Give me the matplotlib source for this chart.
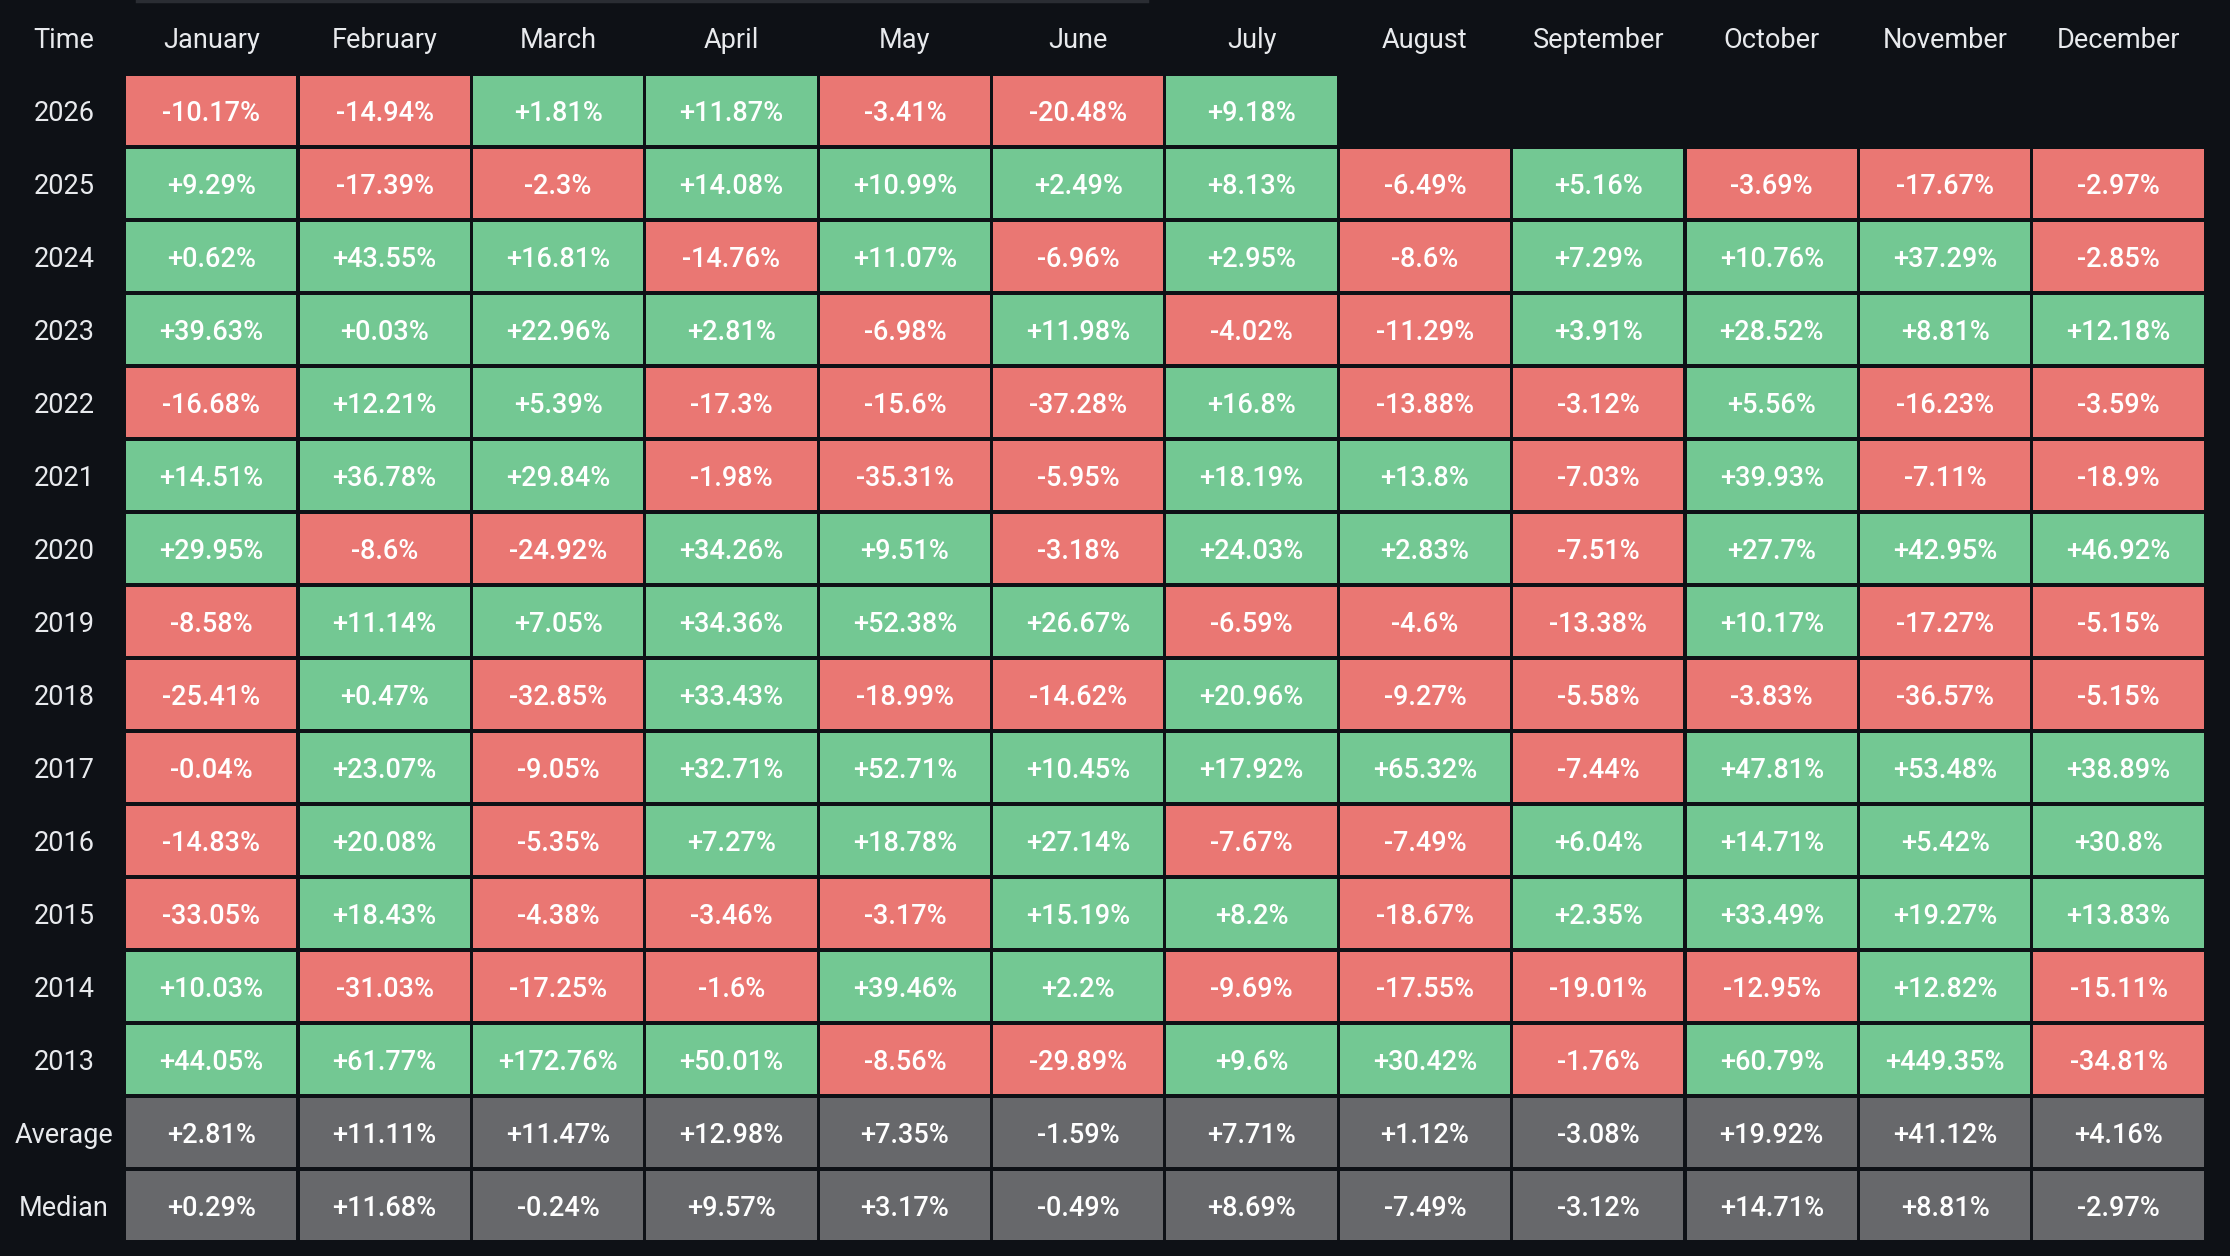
"""Monthly returns heatmap table (dark theme)."""

import matplotlib
matplotlib.use("Agg")
import matplotlib.pyplot as plt
from matplotlib.patches import Rectangle
from matplotlib.lines import Line2D

plt.rcParams["font.family"] = ["Roboto", "DejaVu Sans"]

months = ["January", "February", "March", "April", "May", "June", "July",
          "August", "September", "October", "November", "December"]
row_labels = ["2026", "2025", "2024", "2023", "2022", "2021", "2020", "2019",
              "2018", "2017", "2016", "2015", "2014", "2013", "Average", "Median"]

r2026 = [-10.17, -14.94, 1.81, 11.87, -3.41, -20.48, 9.18, None, None, None, None, None]
r2025 = [9.29, -17.39, -2.3, 14.08, 10.99, 2.49, 8.13, -6.49, 5.16, -3.69, -17.67, -2.97]
r2024 = [0.62, 43.55, 16.81, -14.76, 11.07, -6.96, 2.95, -8.6, 7.29, 10.76, 37.29, -2.85]
r2023 = [39.63, 0.03, 22.96, 2.81, -6.98, 11.98, -4.02, -11.29, 3.91, 28.52, 8.81, 12.18]
r2022 = [-16.68, 12.21, 5.39, -17.3, -15.6, -37.28, 16.8, -13.88, -3.12, 5.56, -16.23, -3.59]
r2021 = [14.51, 36.78, 29.84, -1.98, -35.31, -5.95, 18.19, 13.8, -7.03, 39.93, -7.11, -18.9]
r2020 = [29.95, -8.6, -24.92, 34.26, 9.51, -3.18, 24.03, 2.83, -7.51, 27.7, 42.95, 46.92]
r2019 = [-8.58, 11.14, 7.05, 34.36, 52.38, 26.67, -6.59, -4.6, -13.38, 10.17, -17.27, -5.15]
r2018 = [-25.41, 0.47, -32.85, 33.43, -18.99, -14.62, 20.96, -9.27, -5.58, -3.83, -36.57, -5.15]
r2017 = [-0.04, 23.07, -9.05, 32.71, 52.71, 10.45, 17.92, 65.32, -7.44, 47.81, 53.48, 38.89]
r2016 = [-14.83, 20.08, -5.35, 7.27, 18.78, 27.14, -7.67, -7.49, 6.04, 14.71, 5.42, 30.8]
r2015 = [-33.05, 18.43, -4.38, -3.46, -3.17, 15.19, 8.2, -18.67, 2.35, 33.49, 19.27, 13.83]
r2014 = [10.03, -31.03, -17.25, -1.6, 39.46, 2.2, -9.69, -17.55, -19.01, -12.95, 12.82, -15.11]
r2013 = [44.05, 61.77, 172.76, 50.01, -8.56, -29.89, 9.6, 30.42, -1.76, 60.79, 449.35, -34.81]
average = [2.81, 11.11, 11.47, 12.98, 7.35, -1.59, 7.71, 1.12, -3.08, 19.92, 41.12, 4.16]
median = [0.29, 11.68, -0.24, 9.57, 3.17, -0.49, 8.69, -7.49, -3.12, 14.71, 8.81, -2.97]

year_rows = [r2026, r2025, r2024, r2023, r2022, r2021, r2020, r2019,
             r2018, r2017, r2016, r2015, r2014, r2013]
summary_rows = [average, median]

BG = "#0e1116"
GREEN = "#73c893"
RED = "#ea7773"
GREY = "#67686b"
TEXT = "#ffffff"
LABEL = "#e8eaed"

W, H = 2230, 1256
fig = plt.figure(figsize=(W / 100, H / 100), dpi=100, facecolor=BG)
ax = fig.add_axes([124.6 / W, 14 / H, 2080.6 / W, 1168 / H])
ax.set_facecolor(BG)
ax.set_xlim(-0.5, len(months) - 0.5)
ax.set_ylim(len(row_labels) - 0.5, -0.5)
ax.axis("off")

cw, ch = 0.982, 0.937
fs = 19.5


def fmt(v):
    return f"{v:+}%"


def draw_cell(col, row, value, color):
    ax.add_patch(Rectangle((col - cw / 2, row - ch / 2), cw, ch,
                           facecolor=color, edgecolor="none"))
    ax.text(col, row, fmt(value), ha="center", va="center_baseline",
            color=TEXT, fontsize=fs, fontweight="medium")


for i, vals in enumerate(year_rows):
    for j, v in enumerate(vals):
        if v is None:
            continue
        draw_cell(j, i, v, GREEN if v >= 0 else RED)

for k, vals in enumerate(summary_rows):
    i = len(year_rows) + k
    for j, v in enumerate(vals):
        draw_cell(j, i, v, GREY)

# header row and row labels
label_x = -0.85
ax.text(label_x, -1, "Time", ha="center", va="center_baseline",
        color=LABEL, fontsize=fs, clip_on=False)
for j, m in enumerate(months):
    ax.text(j, -1, m, ha="center", va="center_baseline",
            color=LABEL, fontsize=fs, clip_on=False)
for i, lab in enumerate(row_labels):
    ax.text(label_x, i, lab, ha="center", va="center_baseline",
            color=LABEL, fontsize=fs, clip_on=False)

# thin bar along the top edge
fig.add_artist(Line2D([137 / W, 1147 / W], [1 - 1 / H, 1 - 1 / H],
                      color="#2a2d33", linewidth=2.5))

fig.savefig("out.png", dpi=100, facecolor=BG)
